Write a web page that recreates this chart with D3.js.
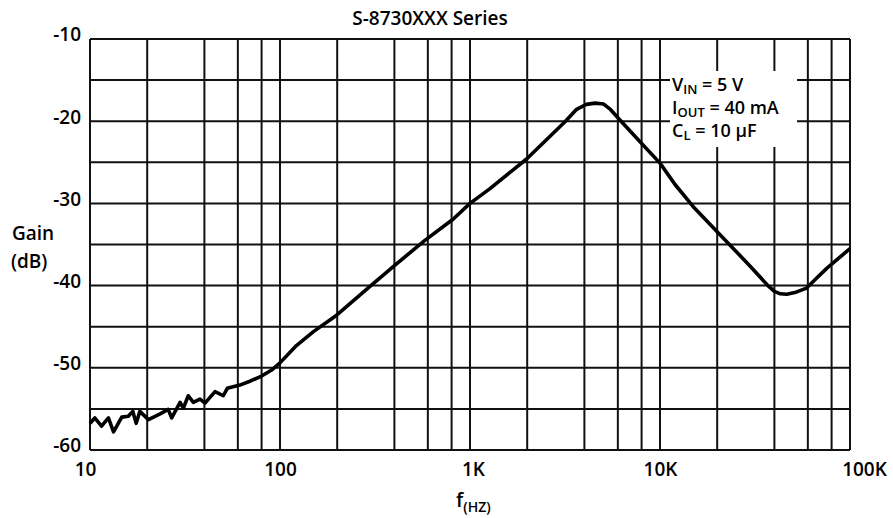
<!DOCTYPE html>
<html><head><meta charset="utf-8">
<script src="https://cdn.jsdelivr.net/npm/d3@7"></script>
<style>
body{margin:0;background:#fff;}
text{font-family:"Open Sans",sans-serif;font-weight:600;fill:#000;}
</style></head>
<body><svg id="c" width="893" height="518"></svg>
<script>
// Data
const freqs = [10,10.6,11.5,12.5,13.3,14.7,15.9,16.8,17.5,18.3,20.3,23.4,25.8,26.9,29.8,31,32.9,35,37.9,40.3,45.5,50.3,52.8,61.5,70,80,90,100,122,150,198.6,297.6,403,579,817,1000,1274,1986,3162,3641,4100,4549,5036,5500,6152,7852,10000,12000,14960,20700,30000,37000,40000,43000,46400,52000,59100,66000,75400,100000];
const gains = [-56.75,-56.1,-57.1,-56.1,-57.8,-56.0,-55.9,-55.3,-56.75,-55.3,-56.3,-55.6,-55.05,-56.1,-54.2,-54.9,-53.4,-54.2,-53.8,-54.3,-52.9,-53.4,-52.5,-52.1,-51.6,-51.0,-50.3,-49.4,-47.3,-45.6,-43.6,-40.1,-37.5,-34.5,-31.9,-30.0,-28.2,-24.6,-20.06,-18.55,-17.95,-17.8,-17.9,-18.6,-19.85,-22.5,-25.1,-27.7,-30.4,-33.8,-37.7,-40.0,-40.7,-41.0,-41.06,-40.8,-40.3,-39.2,-37.9,-35.5];
const xTickValues = [10,100,1000,10000,100000];
const xTickLabels = ["10","100","1K","10K","100K"];
const yTickValues = [-10,-20,-30,-40,-50,-60];
const xGridMultipliers = [1,2,4,6,8];
const yGridValues = [-60,-55,-50,-45,-40,-35,-30,-25,-20,-15,-10];
const title = "S-8730XXX Series";

const svg = d3.select("#c");
const L=90, R=850, T=39, B=450;
const x = d3.scaleLog().domain([10,100000]).range([L,R]);
const y = d3.scaleLinear().domain([-60,-10]).range([B,T]);

// grid values
const xGrid = [];
xTickValues.slice(0,4).forEach(d=>xGridMultipliers.forEach(m=>xGrid.push(d*m)));
xGrid.push(100000);

const g = svg.append("g");
g.selectAll(".vg").data(xGrid).join("line")
  .attr("x1",d=>x(d)).attr("x2",d=>x(d)).attr("y1",T).attr("y2",B)
  .attr("stroke","#111").attr("stroke-width",2);
g.selectAll(".hg").data(yGridValues).join("line")
  .attr("x1",L).attr("x2",R).attr("y1",d=>y(d)).attr("y2",d=>y(d))
  .attr("stroke","#111").attr("stroke-width",2);

// legend box (white, covering grid)
svg.append("rect").attr("x",670).attr("y",71).attr("width",127).attr("height",76).attr("fill","#fff");
const lg = svg.append("g").attr("font-size",18);
function legendLine(yy, main, sub, rest){
  const t = lg.append("text").attr("x",672).attr("y",yy);
  t.append("tspan").text(main);
  t.append("tspan").attr("font-size",13).attr("dy",3).text(sub);
  t.append("tspan").attr("dy",-3).text(rest);
}
legendLine(91,"V","IN"," = 5 V");
legendLine(114,"I","OUT"," = 40 mA");
legendLine(137,"C","L"," = 10 μF");

// curve
const line = d3.line().x((d,i)=>x(freqs[i])).y((d,i)=>y(gains[i])).curve(d3.curveLinear);
svg.append("path").datum(gains).attr("d",line).attr("fill","none")
  .attr("stroke","#000").attr("stroke-width",3.6).attr("stroke-linejoin","round");

// axes
const xAxis = d3.axisBottom(x).tickValues(xTickValues).tickFormat((d,i)=>xTickLabels[i]).tickSize(0).tickPadding(13);
const xa = svg.append("g").attr("transform",`translate(0,${B})`).call(xAxis);
xa.select(".domain").remove();
xa.selectAll("text").attr("font-size",19).attr("font-family","Open Sans").attr("font-weight",600)
  .attr("dx",(d,i)=>i===0?-5:(i===4?14:(i===2?3:0)));

const yAxis = d3.axisLeft(y).tickValues(yTickValues).tickFormat(d=>String(d)).tickSize(0).tickPadding(9);
const ya = svg.append("g").attr("transform",`translate(${L},0)`).call(yAxis);
ya.select(".domain").remove();
ya.selectAll("text").attr("font-size",19).attr("font-family","Open Sans").attr("font-weight",600).attr("dy","0.1em");

// title
svg.append("text").attr("x",430).attr("y",25).attr("text-anchor","middle").attr("font-size",19).text(title);
// y label
svg.append("text").attr("x",12).attr("y",240).attr("font-size",19).text("Gain");
svg.append("text").attr("x",11).attr("y",268).attr("font-size",19).text("(dB)");
// x label
const xl = svg.append("text").attr("x",456).attr("y",507).attr("font-size",20);
xl.append("tspan").text("f");
xl.append("tspan").attr("font-size",14).attr("dy",5).text("(HZ)");
</script></body></html>
